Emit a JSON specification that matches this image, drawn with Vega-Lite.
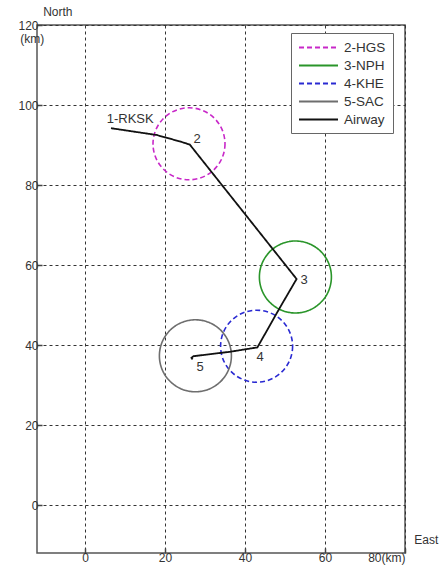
{
  "$schema": "https://vega.github.io/schema/vega-lite/v6.json",
  "width": 368,
  "height": 528,
  "autosize": "none",
  "padding": {"left": 37, "top": 25, "right": 34, "bottom": 22},
  "background": "white",
  "config": {
    "font": "Liberation Sans",
    "view": {"stroke": "#555555", "strokeWidth": 1.5},
    "axis": {
      "grid": true,
      "gridDash": [3, 3],
      "gridColor": "#333333",
      "gridWidth": 1,
      "gridOpacity": 1,
      "domain": false,
      "ticks": true,
      "tickSize": -5,
      "tickColor": "#444444",
      "tickWidth": 1.5,
      "labelFontSize": 12,
      "labelColor": "#333333",
      "labelFont": "Liberation Sans",
      "title": null
    },
    "legend": {
      "orient": "none",
      "legendX": 254,
      "legendY": 8,
      "symbolType": "M-1,0H5",
      "symbolSize": 169,
      "symbolStrokeWidth": 2,
      "labelFontSize": 13.5,
      "labelColor": "#333333",
      "labelFont": "Liberation Sans",
      "fillColor": "white",
      "strokeColor": "#666666",
      "padding": 7,
      "rowPadding": 4,
      "labelOffset": 31
    }
  },
  "datasets": {
    "stations": [
      {"name": "2-HGS", "x": 26, "y": 90.3, "r": 9},
      {"name": "3-NPH", "x": 52.6, "y": 57, "r": 9},
      {"name": "4-KHE", "x": 42.9, "y": 39.7, "r": 9},
      {"name": "5-SAC", "x": 27.6, "y": 37.3, "r": 9}
    ],
    "airway": [
      {"name": "Airway", "seq": 1, "x": 6.5, "y": 94.2},
      {"name": "Airway", "seq": 2, "x": 17.9, "y": 92.5},
      {"name": "Airway", "seq": 3, "x": 23.7, "y": 90.9},
      {"name": "Airway", "seq": 4, "x": 26.2, "y": 90.1},
      {"name": "Airway", "seq": 5, "x": 52.9, "y": 56.5},
      {"name": "Airway", "seq": 6, "x": 48.7, "y": 49.3},
      {"name": "Airway", "seq": 7, "x": 43.1, "y": 39.4},
      {"name": "Airway", "seq": 8, "x": 36.2, "y": 38.3},
      {"name": "Airway", "seq": 9, "x": 27.1, "y": 37.2},
      {"name": "Airway", "seq": 10, "x": 26.6, "y": 36.8},
      {"name": "Airway", "seq": 11, "x": 26.9, "y": 36.4}
    ],
    "labels": [
      {"text": "1-RKSK", "x": 11.3, "y": 96.6},
      {"text": "2", "x": 28, "y": 91.6},
      {"text": "3", "x": 54.8, "y": 56.2},
      {"text": "4", "x": 43.8, "y": 36.9},
      {"text": "5", "x": 28.8, "y": 34.6}
    ],
    "notes": [
      {"text": "North", "x": -6.8, "y": 123.3, "align": "center"},
      {"text": "(km)", "x": -13.2, "y": 116.6, "align": "right"},
      {"text": "East", "x": 85.3, "y": -8.8, "align": "center"}
    ]
  },
  "layer": [
    {
      "data": {"name": "stations"},
      "mark": {"type": "point", "shape": "circle", "filled": false, "strokeWidth": 1.6, "opacity": 1},
      "encoding": {
        "x": {
          "field": "x", "type": "quantitative",
          "scale": {"domain": [-12, 80], "nice": false, "zero": false},
          "axis": {"values": [0, 20, 40, 60, 80], "labelExpr": "datum.value == 80 ? '80(km)' : datum.label", "labelPadding": 4}
        },
        "y": {
          "field": "y", "type": "quantitative",
          "scale": {"domain": [-12, 120], "nice": false, "zero": false},
          "axis": {"values": [0, 20, 40, 60, 80, 100, 120], "labelPadding": 4}
        },
        "size": {"field": "r", "type": "quantitative", "scale": {"domain": [0, 9], "range": [0, 5184]}, "legend": null},
        "color": {
          "field": "name", "type": "nominal",
          "scale": {"domain": ["2-HGS", "3-NPH", "4-KHE", "5-SAC", "Airway"], "range": ["#c828c8", "#2a952a", "#2a2ad2", "#6e6e6e", "#111111"]},
          "legend": {"title": null}
        },
        "strokeDash": {
          "field": "name", "type": "nominal",
          "scale": {"domain": ["2-HGS", "3-NPH", "4-KHE", "5-SAC", "Airway"], "range": [[5, 3], [1, 0], [5, 3], [1, 0], [1, 0]]},
          "legend": {"title": null}
        }
      }
    },
    {
      "data": {"name": "airway"},
      "mark": {"type": "line", "strokeWidth": 1.8},
      "encoding": {
        "x": {"field": "x", "type": "quantitative"},
        "y": {"field": "y", "type": "quantitative"},
        "order": {"field": "seq", "type": "quantitative"},
        "color": {"field": "name", "type": "nominal", "legend": {"title": null}},
        "strokeDash": {"field": "name", "type": "nominal", "legend": {"title": null}}
      }
    },
    {
      "data": {"name": "labels"},
      "mark": {"type": "text", "fontSize": 13, "color": "#333333", "font": "Liberation Sans"},
      "encoding": {
        "x": {"field": "x", "type": "quantitative"},
        "y": {"field": "y", "type": "quantitative"},
        "text": {"field": "text"}
      }
    },
    {
      "data": {"name": "notes"},
      "mark": {"type": "text", "fontSize": 12, "color": "#333333", "font": "Liberation Sans"},
      "encoding": {
        "x": {"field": "x", "type": "quantitative"},
        "y": {"field": "y", "type": "quantitative"},
        "text": {"field": "text"},
        "align": {"field": "align"}
      }
    }
  ],
  "resolve": {"scale": {"color": "shared", "strokeDash": "shared"}}
}
